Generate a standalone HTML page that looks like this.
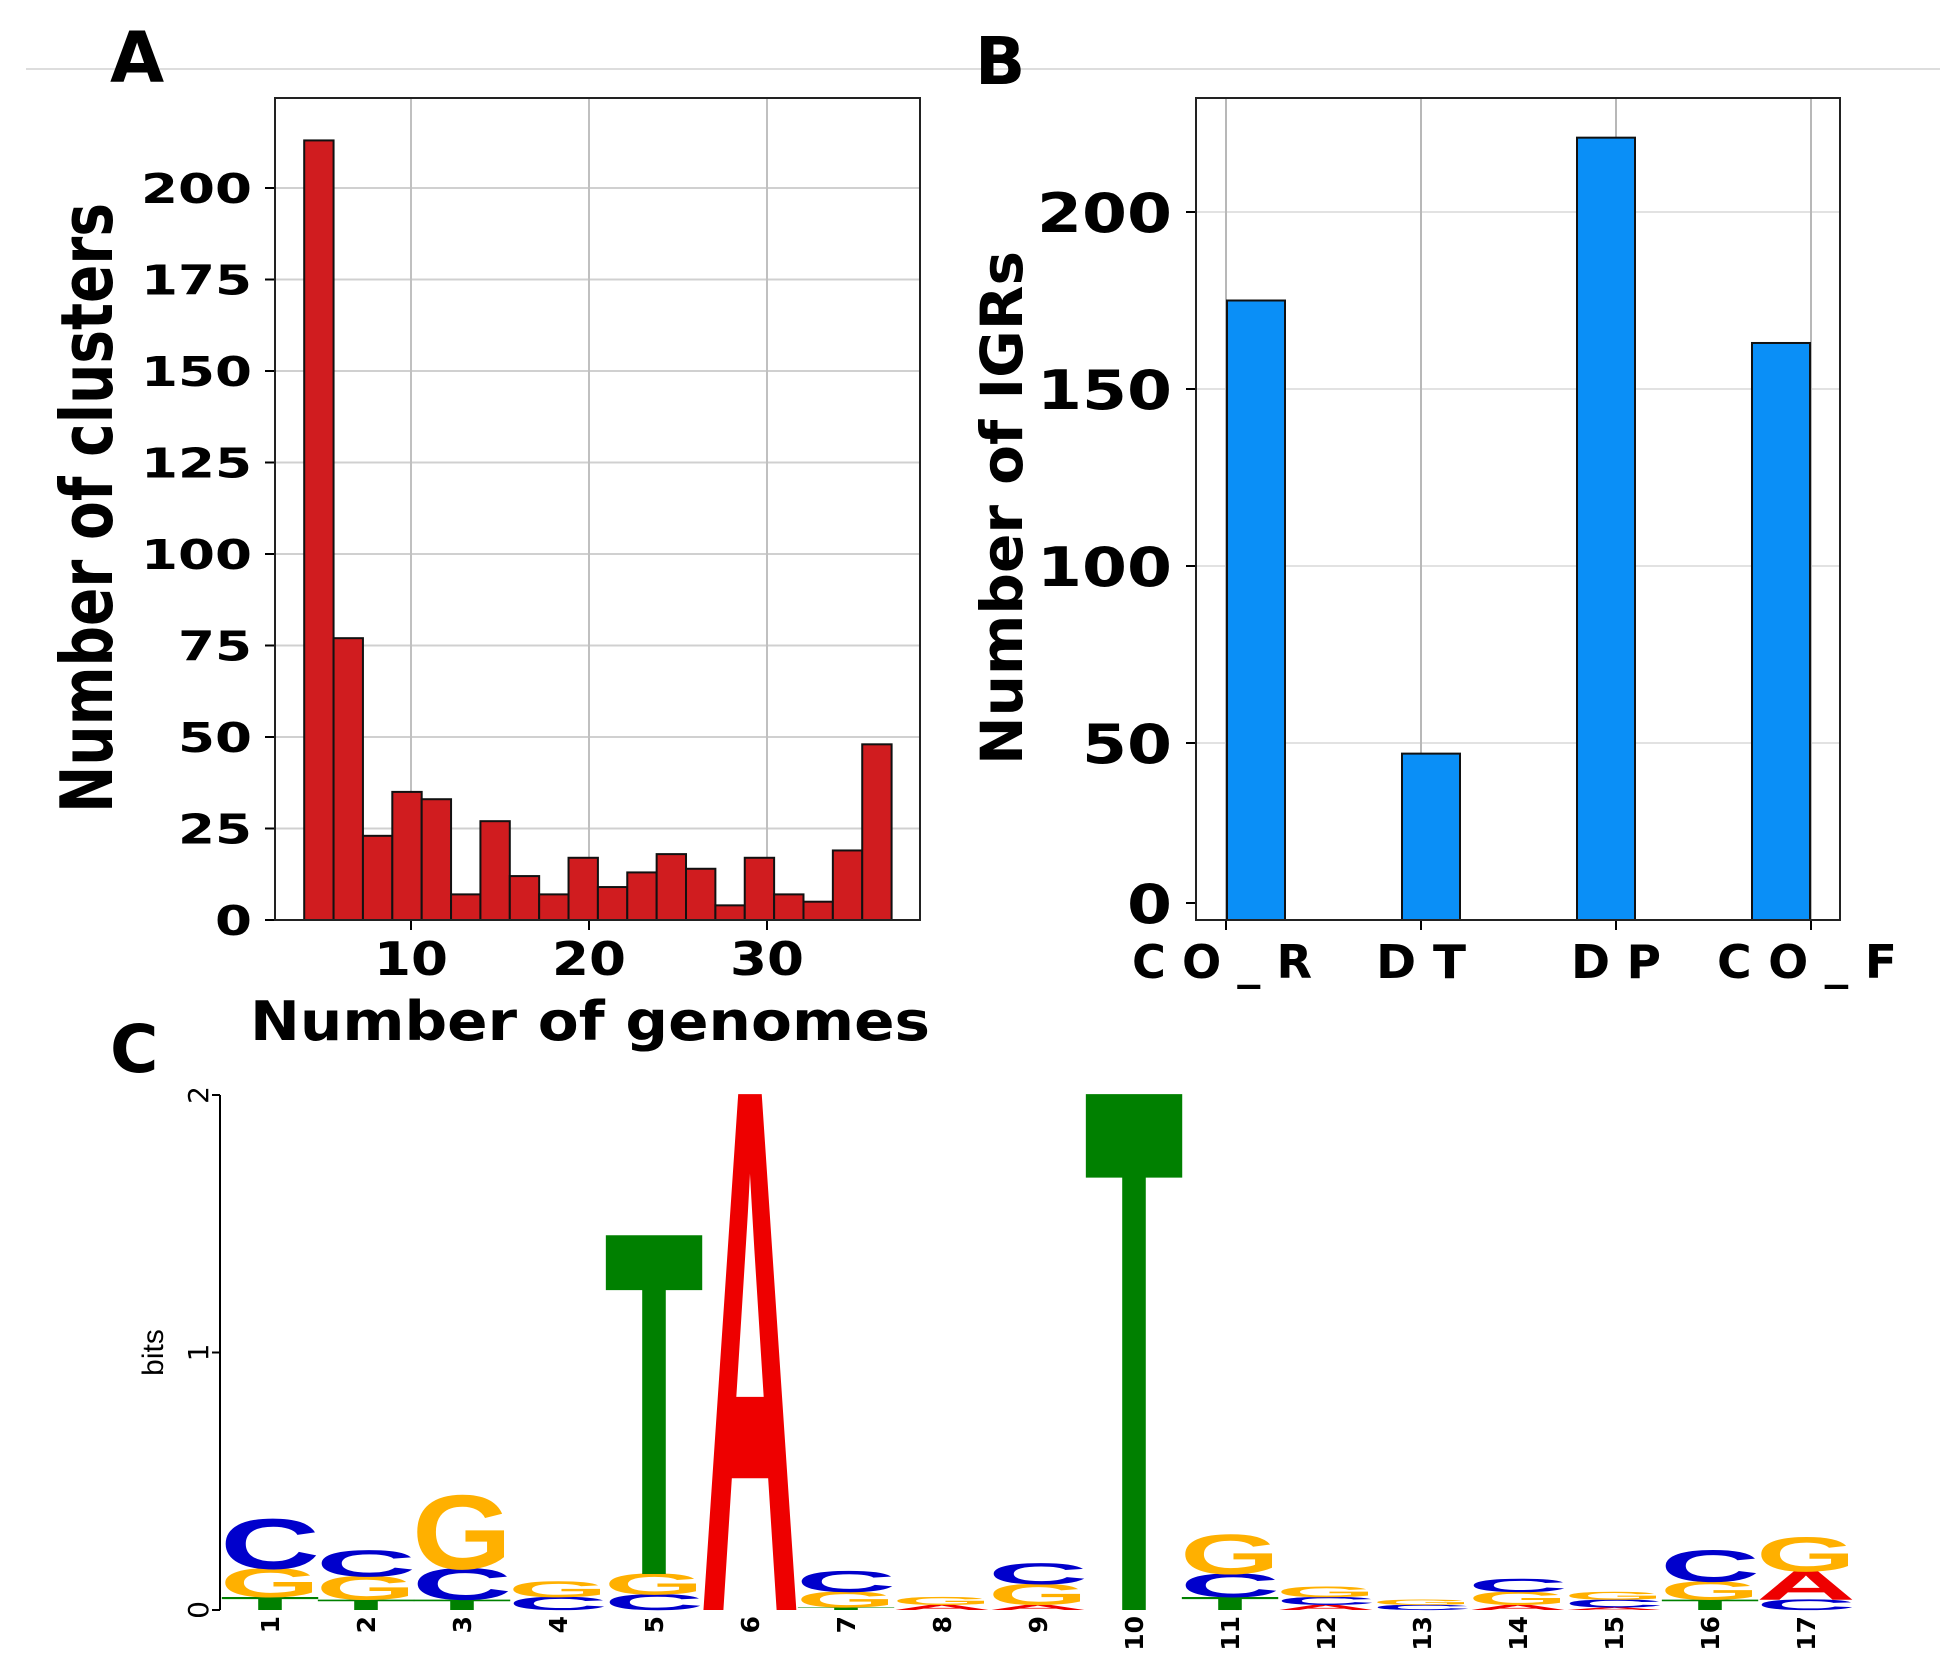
<!DOCTYPE html>
<html><head><meta charset="utf-8"><style>
html,body{margin:0;padding:0;background:#fff;overflow:hidden;width:1957px;height:1673px;}
svg{display:block;position:absolute;left:0;top:0;}
text{font-family:"DejaVu Sans","Liberation Sans",sans-serif;font-weight:bold;}
</style></head><body>
<svg id="fig" width="1957" height="1673" viewBox="0 0 1957 1673" xmlns="http://www.w3.org/2000/svg">
<line x1="26" y1="69" x2="1940" y2="69" stroke="#ddd" stroke-width="2"/>
<text x="110" y="82" font-size="70">A</text>
<text x="975" y="84" font-size="66">B</text>
<text x="110" y="1072" font-size="66">C</text>
<g id="pa"></g>
<g id="pb"></g>
<g id="pc"></g>
</svg>
<script>
// Panel A data
const histCounts = [213,77,23,35,33,7,27,12,7,17,9,13,18,14,4,17,7,5,19,48];
const histStart = 4.0, histBinWidth = 1.65;
const histYTicks = [0,25,50,75,100,125,150,175,200];
const histXTicks = [10,20,30];
// Panel B data
const igrCategories = ["CO_R","DT","DP","CO_F"];
const igrValues = [175,47,221,163];
const igrYTicks = [0,50,100,150,200];
// Panel C data
const logoPositions = ["1","2","3","4","5","6","7","8","9","10","11","12","13","14","15","16","17"];
const logoStacks = [
 [["T",.05],["G",.11],["C",.19]],
 [["T",.04],["G",.09],["C",.10]],
 [["T",.04],["C",.12],["G",.28]],
 [["C",.05],["G",.06]],
 [["C",.06],["G",.08],["T",1.30]],
 [["A",1.98]],
 [["T",.01],["G",.06],["C",.08]],
 [["A",.02],["G",.03]],
 [["A",.02],["G",.08],["C",.08]],
 [["T",1.98]],
 [["T",.05],["C",.09],["G",.15]],
 [["A",.02],["C",.03],["G",.04]],
 [["C",.02],["G",.02]],
 [["A",.02],["G",.05],["C",.05]],
 [["A",.01],["C",.03],["G",.03]],
 [["T",.04],["G",.07],["C",.12]],
 [["C",.04],["A",.11],["G",.13]]
];
const logoYTicks = [0,1,2];

const NS="http://www.w3.org/2000/svg";
function mk(parent,tag,attrs,txt){const e=document.createElementNS(NS,tag);for(const k in attrs)e.setAttribute(k,attrs[k]);if(txt!==undefined)e.textContent=txt;parent.appendChild(e);return e;}

// ---- Panel A ----
(function(){
 const g=document.getElementById('pa');
 const L=275,R=920,T=98,B=920;
 const xS=v=>411+(v-10)*17.8;
 const yS=v=>B-v*3.66;
 histYTicks.forEach(t=>{
  const l=mk(g,'line',{x1:L,x2:R,y1:yS(t),y2:yS(t),stroke:'#d0d0d0','stroke-width':2});
  
  
  const tk=mk(g,'line',{x1:L-10,x2:L,y1:yS(t),y2:yS(t),stroke:'#000','stroke-width':2});
  
  
  const s=String(t);
  const tx=mk(g,'text',{x:252,y:yS(t)+15,'font-size':41,'text-anchor':'end',textLength:s.length*37,lengthAdjust:'spacingAndGlyphs'},s);
  
  
 });
 histXTicks.forEach(t=>{
  const l=mk(g,'line',{x1:xS(t),x2:xS(t),y1:T,y2:B,stroke:'#c0c0c0','stroke-width':2});
  
  
  const tk=mk(g,'line',{x1:xS(t),x2:xS(t),y1:B,y2:B+10,stroke:'#000','stroke-width':2});
  
  
  const tx=mk(g,'text',{x:xS(t),y:975,'font-size':46,'text-anchor':'middle',textLength:74,lengthAdjust:'spacingAndGlyphs'},String(t));
  
  
 });
 histCounts.forEach((c,i)=>{
  const x0=xS(histStart+i*histBinWidth),x1=xS(histStart+(i+1)*histBinWidth);
  const r=mk(g,'rect',{x:x0,y:yS(c),width:x1-x0,height:B-yS(c),fill:'#d01c1f',stroke:'#111','stroke-width':2});
  
  
 });
 const f=mk(g,'rect',{x:L,y:T,width:R-L,height:B-T,fill:'none',stroke:'#222','stroke-width':2});
 
 
 const xt=mk(g,'text',{x:250,y:1040,'font-size':54,textLength:680,lengthAdjust:'spacingAndGlyphs'},'Number of genomes');
 
 
 const yt=mk(g,'text',{x:0,y:0,'font-size':72,'text-anchor':'middle',textLength:610,lengthAdjust:'spacingAndGlyphs',transform:'translate(112,508) rotate(-90)'},'Number of clusters');
 
 
})();

// ---- Panel B ----
(function(){
 const g=document.getElementById('pb');
 const L=1196,R=1840,T=98,B=920;
 const yS=v=>920-v*3.54;
 const catX=i=>1226+i*195;
 const barX=i=>1256+i*175;
 igrYTicks.forEach(t=>{
  if(t>0){const l=mk(g,'line',{x1:L,x2:R,y1:yS(t),y2:yS(t),stroke:'#e2e2e2','stroke-width':2});
  
  }
  const yy=t===0?903:yS(t);
  const tk=mk(g,'line',{x1:L-10,x2:L,y1:yy,y2:yy,stroke:'#000','stroke-width':2});
  
  
  const s=String(t);
  const tx=mk(g,'text',{x:1172,y:yy+20,'font-size':54,'text-anchor':'end',textLength:s.length*45,lengthAdjust:'spacingAndGlyphs'},s);
  
  
 });
 igrCategories.forEach((c,i)=>{
  const l=mk(g,'line',{x1:catX(i),x2:catX(i),y1:T,y2:B,stroke:'#b8b8b8','stroke-width':2});
  
  
  const tk=mk(g,'line',{x1:catX(i),x2:catX(i),y1:B,y2:B+10,stroke:'#000','stroke-width':2});
  
  
 });
 igrValues.forEach((v,i)=>{
  const r=mk(g,'rect',{x:barX(i)-29,y:yS(v),width:58,height:B-yS(v),fill:'#0a8ff7',stroke:'#111','stroke-width':2});
  
  
 });
 igrCategories.forEach((c,i)=>{
  const lab=c.split('').join(' ');
  const w=c.length*45;
  const tx=mk(g,'text',{x:catX(i)+(i===0?-4:i===3?-4:0),y:978,'font-size':46,'text-anchor':'middle',textLength:w,lengthAdjust:'spacingAndGlyphs'},lab);
  
  
 });
 const f=mk(g,'rect',{x:L,y:T,width:R-L,height:B-T,fill:'none',stroke:'#222','stroke-width':2});
 
 
 const yt=mk(g,'text',{x:0,y:0,'font-size':58,'text-anchor':'middle',textLength:514,lengthAdjust:'spacingAndGlyphs',transform:'translate(1022,508) rotate(-90)'},'Number of IGRs');
 
 
})();

// ---- Panel C ----
(function(){
 const g=document.getElementById('pc');
 const y0=1610, perBit=257.5, AX=220;
 const yS=v=>y0-v*perBit;
 const xS=i=>270+i*96;
 const colors={A:'#ee0000',C:'#0000cc',G:'#ffb000',T:'#008000'};
 const ax=mk(g,'line',{x1:AX,x2:AX,y1:yS(2),y2:yS(0),stroke:'#000','stroke-width':2});
 
 
 logoYTicks.forEach(t=>{
  const tk=mk(g,'line',{x1:AX-8,x2:AX,y1:yS(t),y2:yS(t),stroke:'#000','stroke-width':2});
  
  
  const tx=mk(g,'text',{x:0,y:0,'font-size':28,'text-anchor':'middle',style:'font-weight:normal',transform:`translate(${AX-12},${yS(t)}) rotate(-90)`},String(t));
  
  
 });
 const bt=mk(g,'text',{x:0,y:0,'font-size':30,'text-anchor':'middle',style:'font-weight:normal;font-family:Liberation Sans,sans-serif',transform:`translate(163,${yS(1)}) rotate(-90)`},'bits');
 
 
 logoPositions.forEach((p,i)=>{
  const tx=mk(g,'text',{x:0,y:0,'font-size':25,'text-anchor':'end',transform:`translate(${xS(i)+9},${y0+6}) rotate(-90)`},p);
  
  
 });
 logoStacks.forEach((stack,i)=>{
  let base=0;
  stack.forEach(([letter,h])=>{
   const bottom=yS(base), top=yS(base+h);
   const hp=bottom-top;
   base+=h;
   if(hp<0.5) return;
   const t=mk(g,'text',{x:0,y:0,'font-size':100,style:'font-family:Liberation Sans,sans-serif;font-weight:bold;fill:'+colors[letter]},letter);
   
   
   const bb=t.getBBox();
   const capH=68;
   const gw=bb.width*0.86, gx=bb.x+bb.width*0.07;
   const w=86;
   const sx=w/gw, sy=hp/capH;
   t.setAttribute('transform',`translate(${xS(i)-w/2-gx*sx},${bottom}) scale(${sx},${sy})`);
  });
 });
})();
</script>
</body></html>
